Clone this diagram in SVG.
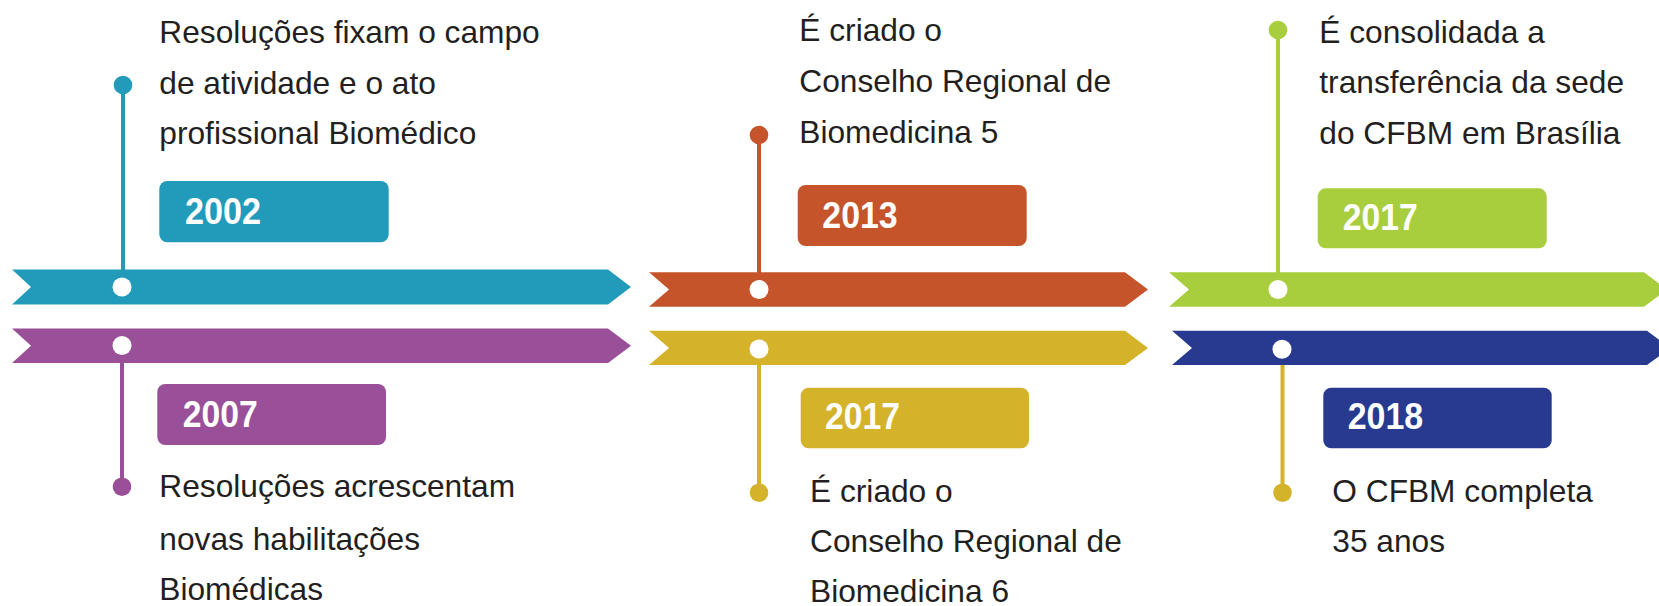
<svg xmlns="http://www.w3.org/2000/svg" width="1659" height="606" viewBox="0 0 1659 606">
<style>
.t{font-family:"Liberation Sans",Arial,sans-serif;font-size:31.7px;fill:#231f20}
.y{font-family:"Liberation Sans",Arial,sans-serif;font-size:36px;font-weight:bold;fill:#fff}
.dot{fill:#fff}
.ln{stroke-width:4;fill:none}
</style>
<rect width="1659" height="606" fill="#fff"/>
<g id="connectors">
<line class="ln" x1="123" y1="85" x2="123" y2="287" stroke="#229bbb"/>
<line class="ln" x1="122" y1="345" x2="122" y2="487" stroke="#9a4f99"/>
<line class="ln" x1="759" y1="135" x2="759" y2="289" stroke="#c6542a"/>
<line class="ln" x1="759" y1="348" x2="759" y2="493" stroke="#d4b22a"/>
<line class="ln" x1="1278" y1="30" x2="1278" y2="289" stroke="#a8ce3e"/>
<line class="ln" x1="1282.5" y1="349" x2="1282.5" y2="493" stroke="#d4b22a"/>
</g>
<g id="n2002">
<polygon points="12,269.5 608,269.5 631,287 608,304.5 12,304.5 31,287" fill="#229bbb"/>
<circle class="dot" cx="122" cy="287" r="9.5"/>
<circle cx="123" cy="85" r="9.3" fill="#229bbb"/>
<rect x="159.3" y="181" width="229.4" height="61.3" rx="8" fill="#229bbb"/>
<text class="y" x="185" y="224" textLength="76" lengthAdjust="spacingAndGlyphs">2002</text>
<text class="t" x="159.3" y="43.3">Resoluções fixam o campo</text>
<text class="t" x="159.3" y="93.5">de atividade e o ato</text>
<text class="t" x="159.3" y="144">profissional Biomédico</text>
</g>
<g id="n2007">
<polygon points="12,328.5 608,328.5 631,345.7 608,363 12,363 31,345.7" fill="#9a4f99"/>
<circle class="dot" cx="122" cy="345.5" r="9.5"/>
<circle cx="122" cy="486.7" r="9.3" fill="#9a4f99"/>
<rect x="157.3" y="384" width="228.7" height="61" rx="8" fill="#9a4f99"/>
<text class="y" x="182.7" y="427.3" textLength="75" lengthAdjust="spacingAndGlyphs">2007</text>
<text class="t" x="159.3" y="497.3">Resoluções acrescentam</text>
<text class="t" x="159.3" y="549.5">novas habilitações</text>
<text class="t" x="159.3" y="600">Biomédicas</text>
</g>
<g id="n2013">
<polygon points="649,272.3 1125,272.3 1148,289.5 1125,306.7 649,306.7 669,289.5" fill="#c6542a"/>
<circle class="dot" cx="759" cy="289.5" r="9.5"/>
<circle cx="759" cy="135" r="9.3" fill="#c6542a"/>
<rect x="797.7" y="185" width="229" height="61" rx="8" fill="#c6542a"/>
<text class="y" x="822.3" y="227.7" textLength="75.4" lengthAdjust="spacingAndGlyphs">2013</text>
<text class="t" x="799.3" y="40.7">É criado o</text>
<text class="t" x="799.3" y="91.7">Conselho Regional de</text>
<text class="t" x="799.3" y="142.7">Biomedicina 5</text>
</g>
<g id="n2017b">
<polygon points="649,330.7 1125,330.7 1148,348 1125,365 649,365 669,348" fill="#d4b22a"/>
<circle class="dot" cx="759" cy="349" r="9.5"/>
<circle cx="759" cy="492.7" r="9.3" fill="#d4b22a"/>
<rect x="800.7" y="387.7" width="228.3" height="60.6" rx="8" fill="#d4b22a"/>
<text class="y" x="825" y="429.3" textLength="75" lengthAdjust="spacingAndGlyphs">2017</text>
<text class="t" x="810" y="501.7">É criado o</text>
<text class="t" x="810" y="552.3">Conselho Regional de</text>
<text class="t" x="810" y="601.7">Biomedicina 6</text>
</g>
<g id="n2017a">
<polygon points="1169,272.3 1644,272.3 1667,289.5 1644,306.7 1169,306.7 1189,289.5" fill="#a8ce3e"/>
<circle class="dot" cx="1278" cy="289.5" r="9.5"/>
<circle cx="1278" cy="30" r="9.3" fill="#a8ce3e"/>
<rect x="1317.7" y="188.3" width="229" height="60" rx="8" fill="#a8ce3e"/>
<text class="y" x="1342.7" y="230" textLength="75" lengthAdjust="spacingAndGlyphs">2017</text>
<text class="t" x="1319.3" y="43.3">É consolidada a</text>
<text class="t" x="1319.3" y="93.3">transferência da sede</text>
<text class="t" x="1319.3" y="144">do CFBM em Brasília</text>
</g>
<g id="n2018">
<polygon points="1172,330.7 1647,330.7 1670,348 1647,365 1172,365 1192,348" fill="#283a8f"/>
<circle class="dot" cx="1282" cy="349.3" r="9.5"/>
<circle cx="1282.5" cy="492.7" r="9.3" fill="#d4b22a"/>
<rect x="1323.3" y="387.7" width="228.4" height="60.6" rx="8" fill="#283a8f"/>
<text class="y" x="1347.7" y="429.3" textLength="75.5" lengthAdjust="spacingAndGlyphs">2018</text>
<text class="t" x="1332.3" y="501.7">O CFBM completa</text>
<text class="t" x="1332.3" y="552.3">35 anos</text>
</g>
</svg>
